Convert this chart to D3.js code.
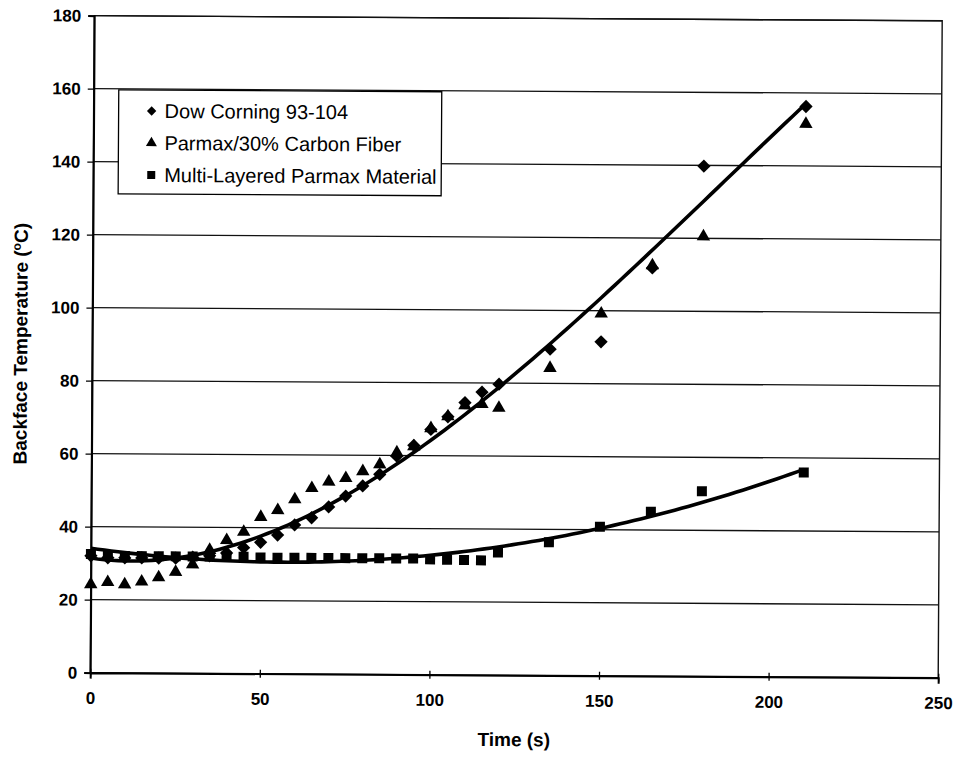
<!DOCTYPE html>
<html>
<head>
<meta charset="utf-8">
<script src="https://cdn.jsdelivr.net/npm/d3@7"></script>
<style>
  html, body { margin: 0; padding: 0; background: #fff; }
  svg { display: block; }
  text { font-family: "Liberation Sans", Arial, Helvetica, sans-serif; fill: #000; }
</style>
</head>
<body>
<svg id="chart" width="961" height="759"></svg>
<script>
// ---------------- data ----------------
const time = [0,5,10,15,20,25,30,35,40,45,50,55,60,65,70,75,80,85,90,95,100,105,110,115,120,135,150,165,180,210];
const dowCorning = [32,31.5,31.5,31.5,31.5,31.5,31.8,32.2,33,34.5,36,38,40.8,42.8,45.8,48.8,51.6,54.8,59.8,62.8,67.2,70.7,74.6,77.5,79.7,89.4,91.5,111.8,139.8,156.3];
const parmaxCarbon = [24.2,24.8,24.2,25,26.2,27.7,29.8,33.8,36.5,38.8,42.9,44.8,47.8,50.9,52.7,53.7,55.6,57.5,60.8,62.5,67.5,70.8,73.8,74.2,73.2,84.2,99.2,112.5,120.5,151.5];
const multiLayer = [32.5,32,32,32,32,32,32,32,32,32,31.8,31.8,31.8,31.8,31.8,31.8,31.8,31.8,31.8,31.8,31.6,31.5,31.5,31.4,33.6,36.5,40.8,45,50.7,56];
const seriesNames = ["Dow Corning 93-104", "Parmax/30% Carbon Fiber", "Multi-Layered Parmax Material"];
const xTicks = [0,50,100,150,200,250];
const yTicks = [0,20,40,60,80,100,120,140,160,180];
const xTitle = "Time (s)";
const trendOrderDow = 3;
const trendOrderML = 2;

// ---------------- helpers ----------------
function polyfit(xs, ys, order) {
  const n = order + 1;
  const A = Array.from({length: n}, () => new Array(n + 1).fill(0));
  xs.forEach((x0, k) => {
    const x = x0 / 100;
    for (let i = 0; i < n; i++) {
      for (let j = 0; j < n; j++) A[i][j] += Math.pow(x, i + j);
      A[i][n] += ys[k] * Math.pow(x, i);
    }
  });
  for (let c = 0; c < n; c++) {
    let p = c;
    for (let r = c + 1; r < n; r++) if (Math.abs(A[r][c]) > Math.abs(A[p][c])) p = r;
    [A[c], A[p]] = [A[p], A[c]];
    for (let r = 0; r < n; r++) {
      if (r === c) continue;
      const f = A[r][c] / A[c][c];
      for (let k = c; k <= n; k++) A[r][k] -= f * A[c][k];
    }
  }
  const coef = A.map((row, i) => row[n] / row[i]);
  return t => coef.reduce((s, c, i) => s + c * Math.pow(t / 100, i), 0);
}

// ---------------- layout ----------------
const svg = d3.select("#chart");
const root = svg.append("g").attr("transform", "rotate(0.35,480,380)");
const L = 92, R = 940, T = 18, B = 675;
const x = d3.scaleLinear().domain([0, 250]).range([L, R]);
const y = d3.scaleLinear().domain([0, 180]).range([B, T]);

// gridlines
root.append("g").selectAll("line").data(yTicks.filter(v => v > 0)).join("line")
  .attr("x1", L).attr("x2", R).attr("y1", d => y(d)).attr("y2", d => y(d))
  .attr("stroke", "#111").attr("stroke-width", 1.3);

// plot border
root.append("rect").attr("x", L).attr("y", T).attr("width", R - L).attr("height", B - T)
  .attr("fill", "none").attr("stroke", "#111").attr("stroke-width", 1.4);

// axes
const yAxis = d3.axisLeft(y).tickValues(yTicks).tickSize(6).tickPadding(7).tickFormat(d3.format("d"));
const xAxis = d3.axisBottom(x).tickValues(xTicks).tickSize(6).tickPadding(13).tickFormat(d3.format("d"));
const gy = root.append("g").attr("transform", `translate(${L},0)`).call(yAxis);
const gx = root.append("g").attr("transform", `translate(0,${B})`).call(xAxis);
[gx, gy].forEach(g => {
  g.select(".domain").attr("stroke", "#000").attr("stroke-width", 2);
  g.selectAll(".tick line").attr("stroke", "#000").attr("stroke-width", 1.3);
  g.selectAll("text").attr("font-size", 17).attr("font-weight", "bold")
    .attr("font-family", '"Liberation Sans", Arial, sans-serif').attr("fill", "#000");
});
gx.selectAll(".tick line").attr("y1", -4).attr("y2", 4);

// axis titles
root.append("text").attr("x", (L + R) / 2).attr("y", 746).attr("text-anchor", "middle")
  .attr("font-size", 19).attr("font-weight", "bold").text(xTitle);
const yt = root.append("text").attr("transform", `translate(27,${(T + B) / 2}) rotate(-90)`)
  .attr("text-anchor", "middle").attr("font-size", 19).attr("font-weight", "bold");
yt.append("tspan").text("Backface Temperature (");
yt.append("tspan").attr("font-size", 12).attr("dy", -7).text("o");
yt.append("tspan").attr("dy", 7).text("C)");

// trend lines
const fitDow = polyfit(time, dowCorning, trendOrderDow);
const fitML = polyfit(time, multiLayer, trendOrderML);
const tSamples = d3.range(0, 210.01, 2);
const line = d3.line().x(d => x(d[0])).y(d => y(d[1])).curve(d3.curveLinear);
[fitDow, fitML].forEach(f => {
  root.append("path").datum(tSamples.map(t => [t, f(t)]))
    .attr("d", line).attr("fill", "none").attr("stroke", "#000").attr("stroke-width", 3.6);
});

// markers
const symDiamond = d3.symbol().type(d3.symbolSquare).size(88);
const symTri = d3.symbol().type(d3.symbolTriangle).size(78);
const symSq = d3.symbol().type(d3.symbolSquare).size(100);
function drawSeries(vals, sym, rot) {
  root.append("g").selectAll("path").data(vals.map((v, i) => [time[i], v])).join("path")
    .attr("d", sym)
    .attr("transform", d => `translate(${x(d[0])},${y(d[1])}) rotate(${rot})`)
    .attr("fill", "#000");
}
drawSeries(multiLayer, symSq, 0);
drawSeries(parmaxCarbon, symTri, 0);
drawSeries(dowCorning, symDiamond, 45);

// legend
const lg = root.append("g");
lg.append("rect").attr("x", 117).attr("y", 92).attr("width", 323).attr("height", 104)
  .attr("fill", "#fff").attr("stroke", "#000").attr("stroke-width", 1.3);
const legendSyms = [[d3.symbol().type(d3.symbolSquare).size(44), 45], [d3.symbol().type(d3.symbolTriangle).size(52), 0], [d3.symbol().type(d3.symbolSquare).size(64), 0]];
seriesNames.forEach((name, i) => {
  const cy = 113 + i * 32;
  lg.append("path").attr("d", legendSyms[i][0]).attr("transform", `translate(150,${cy}) rotate(${legendSyms[i][1]})`).attr("fill", "#000");
  lg.append("text").attr("x", 163).attr("y", cy + 7).attr("font-size", 20).text(name);
});
</script>
</body>
</html>
